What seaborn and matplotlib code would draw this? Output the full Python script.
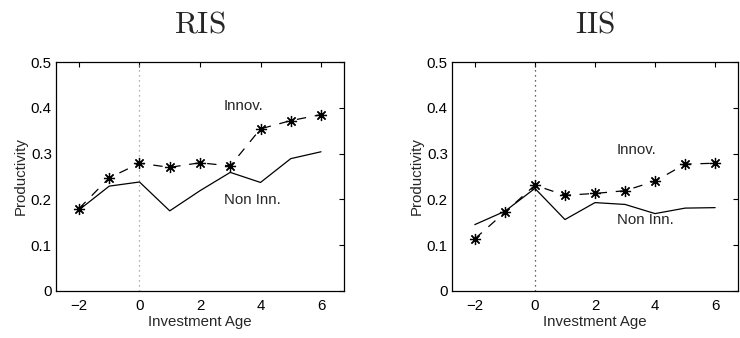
import matplotlib
matplotlib.use("Agg")
import matplotlib.pyplot as plt
import seaborn as sns
import pandas as pd

ages = [-2, -1, 0, 1, 2, 3, 4, 5, 6]
ris_innov = [0.180, 0.247, 0.279, 0.270, 0.280, 0.273, 0.354, 0.372, 0.385]
ris_non = [0.177, 0.229, 0.238, 0.175, 0.219, 0.259, 0.237, 0.289, 0.304]
iis_innov = [0.114, 0.172, 0.231, 0.209, 0.213, 0.219, 0.240, 0.277, 0.279]
iis_non = [0.145, 0.174, 0.224, 0.156, 0.193, 0.189, 0.169, 0.181, 0.182]
titles = ["RIS", "IIS"]
xticks = [-2, 0, 2, 4, 6]
yticks = [0, 0.1, 0.2, 0.3, 0.4, 0.5]
ytick_labels = ["0", "0.1", "0.2", "0.3", "0.4", "0.5"]
xtick_labels = ["\u22122", "0", "2", "4", "6"]
label_pos = {"RIS": ((2.78, 0.403), (2.78, 0.199)), "IIS": ((2.73, 0.308), (2.73, 0.155))}

sns.set_style("white")
plt.rcParams["font.family"] = ["Liberation Sans", "DejaVu Sans"]
plt.rcParams["mathtext.fontset"] = "cm"

fig = plt.figure(figsize=(7.4, 3.38), dpi=100)
W, H = 740, 338
ax_boxes = [(56, 62, 344, 291), (452, 62, 738, 291)]
vline_colors = ["#999999", "#333333"]
FS = 10.8

series = [(ris_innov, ris_non), (iis_innov, iis_non)]
for i, (title, (innov, non)) in enumerate(zip(titles, series)):
    l, t, r, b = ax_boxes[i]
    ax = fig.add_axes([l / W, 1 - b / H, (r - l) / W, (b - t) / H])
    df = pd.DataFrame({"age": ages, "innov": innov, "non": non})
    ax.axvline(0, color=vline_colors[i], linestyle=(0, (1, 3)), lw=0.9, zorder=1)
    sns.lineplot(data=df, x="age", y="non", ax=ax, color="black", lw=0.9, zorder=3)
    sns.lineplot(data=df, x="age", y="innov", ax=ax, color="black", lw=0.9,
                 dashes=False, zorder=3, marker=(8, 2, 0), markersize=8,
                 markeredgewidth=0.9, markeredgecolor="black")
    ax.lines[-1].set_dashes((7.5, 7))
    ax.set_xlim(-2.76, 6.76)
    ax.set_ylim(0, 0.5)
    ax.set_xticks(xticks)
    ax.set_xticklabels(xtick_labels)
    ax.set_yticks(yticks)
    ax.set_yticklabels(ytick_labels)
    ax.tick_params(direction="in", length=3.5, width=0.8, top=True, right=True,
                   labelsize=FS, pad=3, colors="black")
    ax.tick_params(axis="x", pad=6)
    for s in ax.spines.values():
        s.set_visible(True)
        s.set_color("black")
        s.set_linewidth(0.9)
    ax.set_xlabel("Investment Age", fontsize=FS, labelpad=1)
    ax.set_ylabel("Productivity", fontsize=FS, labelpad=2)
    ax.set_title(r"$\mathrm{" + title + "}$", fontsize=22.5, pad=21)
    (ix, iy), (nx, ny) = label_pos[title]
    ax.text(ix, iy, "Innov.", fontsize=FS, va="center", ha="left")
    ax.text(nx, ny, "Non Inn.", fontsize=FS, va="center", ha="left")

fig.savefig("out.png", dpi=100, facecolor="white")
